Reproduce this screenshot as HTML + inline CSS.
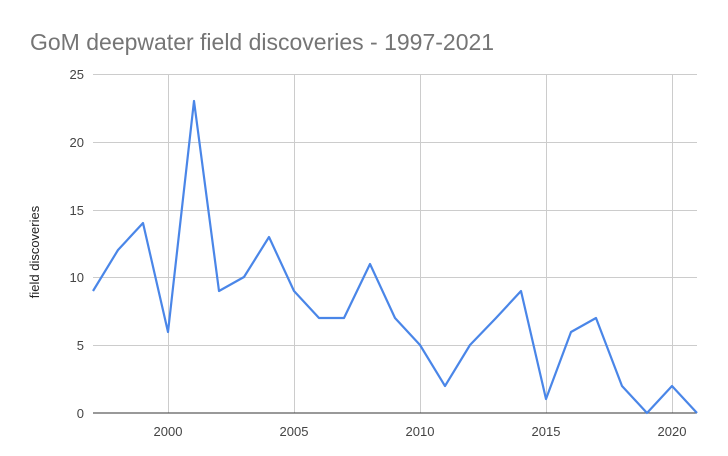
<!DOCTYPE html>
<html><head><meta charset="utf-8"><style>
body{margin:0;background:#fff;}
svg{display:block;font-family:"Liberation Sans",Arial,sans-serif;}
</style></head><body>
<svg width="728" height="456" viewBox="0 0 728 456">
<rect width="728" height="456" fill="#fff"/>
<text x="30" y="50" font-size="23" fill="#757575">GoM deepwater field discoveries - 1997-2021</text>
<g stroke="#cccccc" stroke-width="1">
<line x1="93" y1="74.5" x2="697" y2="74.5"/>
<line x1="93" y1="142.5" x2="697" y2="142.5"/>
<line x1="93" y1="210.5" x2="697" y2="210.5"/>
<line x1="93" y1="277.5" x2="697" y2="277.5"/>
<line x1="93" y1="345.5" x2="697" y2="345.5"/>
<line x1="168.5" y1="74" x2="168.5" y2="413"/>
<line x1="294.5" y1="74" x2="294.5" y2="413"/>
<line x1="420.5" y1="74" x2="420.5" y2="413"/>
<line x1="546.5" y1="74" x2="546.5" y2="413"/>
<line x1="672.5" y1="74" x2="672.5" y2="413"/>
</g>
<line x1="93" y1="413" x2="697" y2="413" stroke="#333" stroke-width="1"/>
<g font-size="13" fill="#444" text-anchor="end">
<text x="84" y="418">0</text><text x="84" y="350">5</text><text x="84" y="282">10</text>
<text x="84" y="215">15</text><text x="84" y="147">20</text><text x="84" y="79">25</text>
</g>
<g font-size="13" fill="#444" text-anchor="middle">
<text x="168" y="436">2000</text><text x="294" y="436">2005</text><text x="420" y="436">2010</text>
<text x="546" y="436">2015</text><text x="672" y="436">2020</text>
</g>
<text transform="translate(39,252) rotate(-90)" font-size="13" fill="#222" text-anchor="middle">field discoveries</text>
<polyline fill="none" stroke="#4a86e8" stroke-width="2.2" stroke-linejoin="round"
points="93,291 118,250 143,223 168,332 194,101 219,291 244,277 269,237 294,291 319,318 344,318 370,264 395,318 420,345 445,386 470,345 496,318 521,291 546,399 571,332 596,318 622,386 647,413 672,386 697,413"/>
</svg>
</body></html>
